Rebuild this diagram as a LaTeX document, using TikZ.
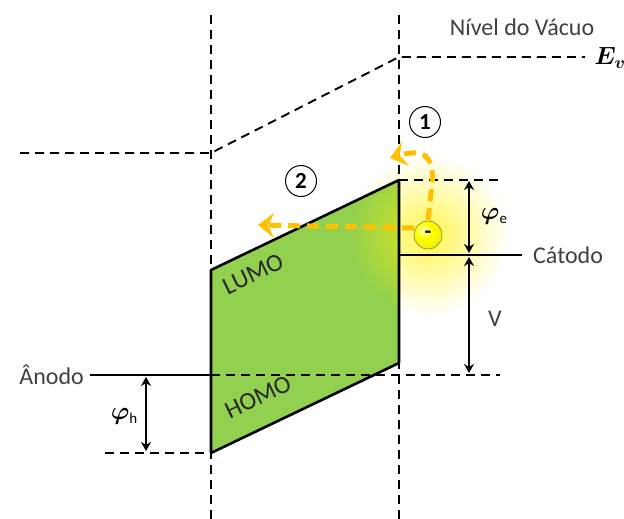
\documentclass[tikz,border=0pt]{standalone}
\usepackage{fontspec}
\setmainfont{Carlito}
\usetikzlibrary{arrows.meta,fadings}
\definecolor{bandgreen}{HTML}{92D050}
\definecolor{arrorange}{HTML}{FFC000}
\definecolor{labgray}{HTML}{404040}
\tikzfading[name=glowfade, inner color=transparent!0, outer color=transparent!100]
\pgfdeclareradialshading{eball}{\pgfpoint{-10bp}{10bp}}{color(0bp)=(yellow!25!white); color(14bp)=(yellow); color(36bp)=(yellow!92!black); color(48bp)=(yellow!62!black); color(60bp)=(yellow!55!black)}
\begin{document}
\begin{tikzpicture}[x=1pt,y=-1pt,
  dashline/.style={draw=black, line width=1.9pt, dash pattern=on 9pt off 6pt},
  solidline/.style={draw=black, line width=2.6pt},
  measure/.style={draw=black, line width=2.2pt, {Stealth[length=9pt,width=10pt]}-{Stealth[length=9pt,width=10pt]}},
  moveline/.style={draw=arrorange, line width=5pt, dash pattern=on 12pt off 7pt, -{Stealth[length=16pt,width=25pt,inset=6pt]}},
  lab/.style={text=labgray, font=\fontsize{24}{28}\selectfont, inner sep=0pt},
  mathlab/.style={text=black, font=\fontsize{24}{28}\selectfont\boldmath, inner sep=0pt},
  bandlab/.style={text=black!85, font=\fontsize{25}{28}\selectfont, inner sep=0pt, rotate=25.6},
  numcirc/.style={circle, draw=black, line width=1pt, minimum size=31pt, inner sep=0pt, font=\fontsize{23}{24}\selectfont\bfseries}
]
\useasboundingbox (0,0) rectangle (624,519);

% key points
\coordinate (LT) at (211,270);
\coordinate (RT) at (399,180);
\coordinate (RB) at (399,363);
\coordinate (LB) at (211,453);
\coordinate (ball) at (428,235);

% green band
\fill[bandgreen] (LT) -- (RT) -- (RB) -- (LB) -- cycle;

% glow
\fill[yellow, opacity=0.7, path fading=glowfade] (ball) circle (80pt);

% vertical dashed lines
\coordinate (VLt) at (211,15); \coordinate (VLb) at (211,519);
\coordinate (VRt) at (399,15); \coordinate (VRb) at (399,519);
\draw[dashline] (VLt) -- (VLb);
\draw[dashline] (VRt) -- (VRb);

% vacuum level
\coordinate (VacA) at (20,153);
\coordinate (VacB) at (211,153);
\coordinate (VacC) at (399,57);
\coordinate (VacD) at (585,57);
\draw[dashline] (VacA) -- (VacB) -- (VacC) -- (VacD);
\node[lab] (nivel) at (522,27) {Nível do Vácuo};
\node[mathlab] (ev) at (610,58) {$E_v$};

% band border
\draw[solidline, line join=round] (LT) -- (RT) -- (RB) -- (LB) -- cycle;
\node[bandlab] (lumo) at (253,274) {LUMO};
\node[bandlab] (homo) at (258,397) {HOMO};

% cathode side
\coordinate (CatA) at (399,255);
\coordinate (CatB) at (522,255);
\draw[solidline] (CatA) -- (CatB);
\node[lab, anchor=west] (catodo) at (533,255) {Cátodo};
\coordinate (PeTop) at (500,180);
\draw[dashline] (RT) -- (PeTop);
\coordinate (VBotA) at (211,375);
\coordinate (VBotB) at (500,375);
\draw[dashline] (VBotA) -- (VBotB);
\coordinate (PeA) at (469,181);
\coordinate (PeB) at (469,253);
\draw[measure] (PeA) -- (PeB);
\node[mathlab] (phie) at (494,216) {$\varphi$\raisebox{-0.35ex}{\fontsize{15}{16}\selectfont e}};
\coordinate (VA) at (469,257);
\coordinate (VB) at (469,373);
\draw[measure] (VA) -- (VB);
\node[lab] (vlab) at (495,319) {V};

% anode side
\coordinate (AnA) at (90,375);
\draw[solidline] (AnA) -- (VBotA);
\node[lab, anchor=east] (anodo) at (84,375) {Ânodo};
\coordinate (HbA) at (105,453);
\draw[dashline] (HbA) -- (LB);
\coordinate (PhA) at (146,377);
\coordinate (PhB) at (146,451);
\draw[measure] (PhA) -- (PhB);
\node[mathlab] (phih) at (124,416) {$\varphi$\raisebox{-0.35ex}{\fontsize{15}{16}\selectfont h}};

% electron paths
\coordinate (e1s) at (428,220);
\coordinate (e1e) at (390,158);
\draw[moveline] (e1s) -- (432,185) .. controls (435,150) and (418,150) .. (e1e);
\coordinate (e2s) at (414,228);
\coordinate (e2e) at (258,225);
\draw[moveline] (e2s) -- (e2e);

% electron
\shade[shading=eball] (ball) circle (14pt);
\draw[draw=yellow!55!black, line width=0.8pt] (ball) circle (14pt);
\node[inner sep=0pt, text=black, font=\fontsize{22}{22}\selectfont\bfseries] (minus) at (ball) {-};

% step numbers
\node[numcirc] (n1) at (425,122) {1};
\node[numcirc] (n2) at (301,181) {2};
\end{tikzpicture}
\end{document}
